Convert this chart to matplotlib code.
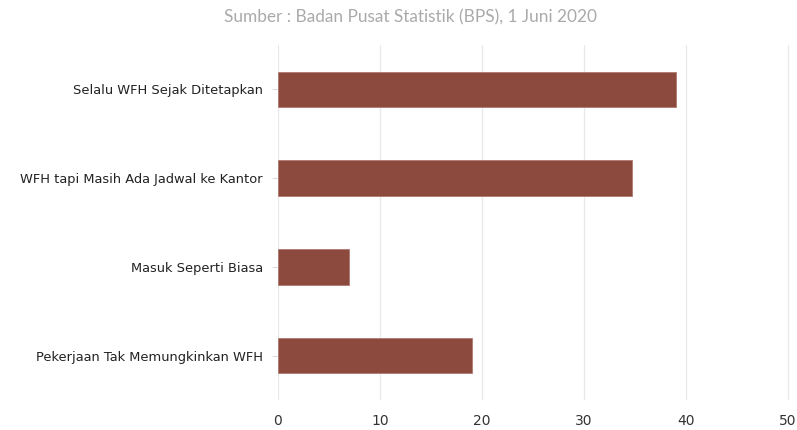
import matplotlib
matplotlib.use("Agg")
import matplotlib.pyplot as plt

categories = ["Selalu WFH Sejak Ditetapkan",
              "WFH tapi Masih Ada Jadwal ke Kantor",
              "Masuk Seperti Biasa",
              "Pekerjaan Tak Memungkinkan WFH"]
values = [39.0, 34.7, 7.0, 19.0]
xticks = [0, 10, 20, 30, 40, 50]
title = "Sumber : Badan Pusat Statistik (BPS), 1 Juni 2020"

fig = plt.figure(figsize=(7.97, 4.30), dpi=100)
ax = fig.add_axes([278/797, 1-400/430, 512/797, 355/430])

pos = list(range(len(categories)))
ax.barh(pos, values, height=0.4, color="#8c4a3f", edgecolor="#b07a70", linewidth=0.6, zorder=3)
ax.set_ylim(len(categories)-0.5, -0.5)
ax.set_xlim(0, 50.2)
ax.set_yticks(pos)
ax.set_yticklabels(categories, fontsize=9.4, color="#222222", family="DejaVu Sans")
ax.set_xticks(xticks)
ax.set_xticklabels([str(t) for t in xticks], fontsize=10, color="#333333")
ax.tick_params(axis="y", length=4, color="#dddddd", width=0.8, pad=7)
ax.tick_params(axis="x", length=0, pad=10)
ax.grid(axis="x", color="#e8e8e8", linewidth=0.9, zorder=0)
for s in ax.spines.values():
    s.set_visible(False)

fig.text(411/797, 1-17/430, title, ha="center", va="center", fontsize=12.4,
         color="#aaaaaa", family="Lato")

fig.savefig("out.png", dpi=100, facecolor="white")
